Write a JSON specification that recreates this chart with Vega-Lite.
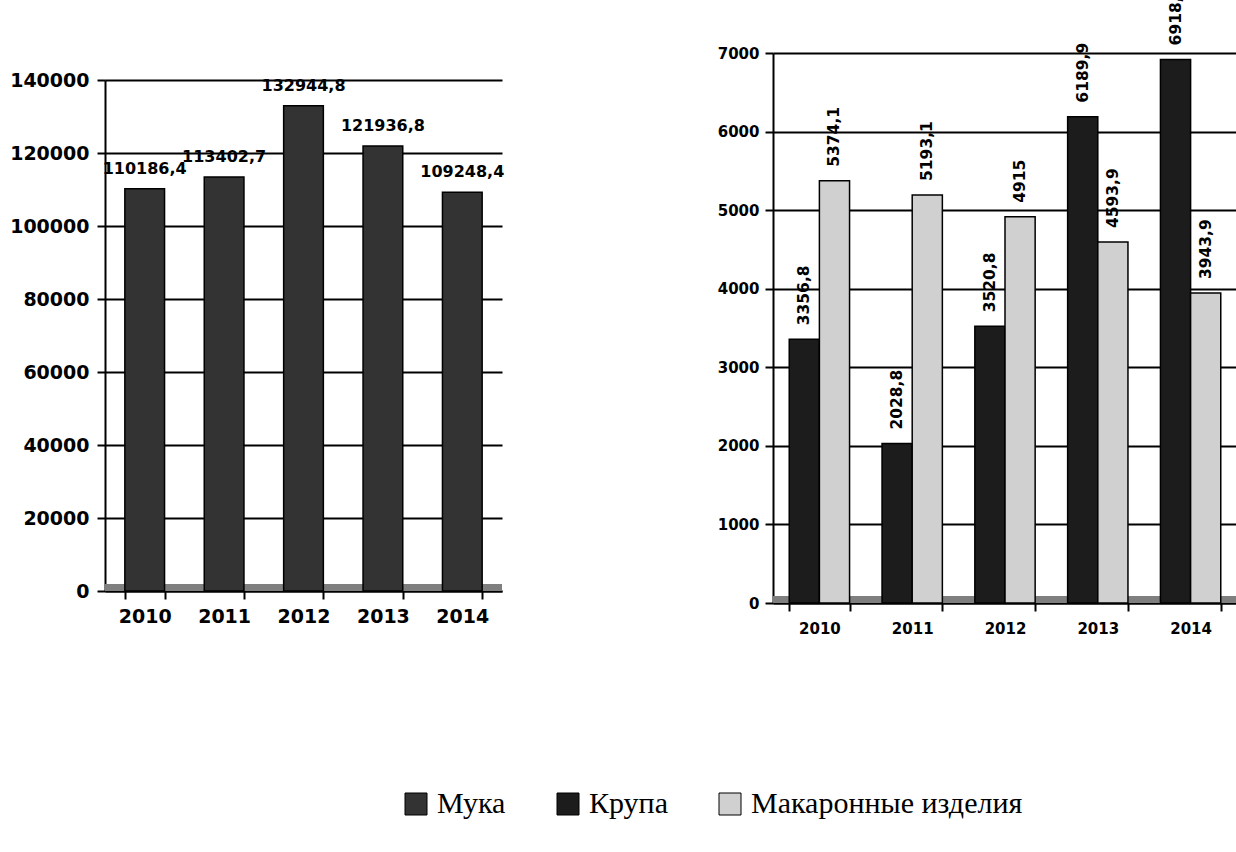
{
  "$schema": "https://vega.github.io/schema/vega-lite/v6.json",
  "background": "white",
  "padding": {"left": 9, "top": -15, "right": 0, "bottom": 0},
  "config": {
    "view": {"stroke": null},
    "font": "DejaVu Sans",
    "axis": {
      "labelColor": "black",
      "labelFontWeight": "bold",
      "domainColor": "black",
      "domainWidth": 2,
      "tickColor": "black",
      "tickWidth": 2,
      "tickSize": 8,
      "gridColor": "black",
      "gridWidth": 2,
      "gridOpacity": 1,
      "title": null
    }
  },
  "datasets": {
    "muka": [
      {"year": "2010", "product": "Мука", "value": 110186.4, "label": "110186,4"},
      {"year": "2011", "product": "Мука", "value": 113402.7, "label": "113402,7"},
      {"year": "2012", "product": "Мука", "value": 132944.8, "label": "132944,8"},
      {"year": "2013", "product": "Мука", "value": 121936.8, "label": "121936,8"},
      {"year": "2014", "product": "Мука", "value": 109248.4, "label": "109248,4"}
    ],
    "other": [
      {"year": "2010", "product": "Крупа", "value": 3356.8, "label": "3356,8"},
      {"year": "2010", "product": "Макаронные изделия", "value": 5374.1, "label": "5374,1"},
      {"year": "2011", "product": "Крупа", "value": 2028.8, "label": "2028,8"},
      {"year": "2011", "product": "Макаронные изделия", "value": 5193.1, "label": "5193,1"},
      {"year": "2012", "product": "Крупа", "value": 3520.8, "label": "3520,8"},
      {"year": "2012", "product": "Макаронные изделия", "value": 4915, "label": "4915"},
      {"year": "2013", "product": "Крупа", "value": 6189.9, "label": "6189,9"},
      {"year": "2013", "product": "Макаронные изделия", "value": 4593.9, "label": "4593,9"},
      {"year": "2014", "product": "Крупа", "value": 6918.6, "label": "6918,6"},
      {"year": "2014", "product": "Макаронные изделия", "value": 3943.9, "label": "3943,9"}
    ]
  },
  "spacing": 211,
  "resolve": {"scale": {"color": "shared"}},
  "hconcat": [
    {
      "width": 397,
      "height": 538,
      "data": {"name": "muka"},
      "encoding": {
        "x": {
          "field": "year", "type": "nominal",
          "scale": {"paddingInner": 0.5, "paddingOuter": 0.25},
          "axis": {"labelAngle": 0, "tickBand": "extent", "labelFontSize": 19, "labelPadding": 8, "grid": false}
        },
        "y": {
          "field": "value", "type": "quantitative",
          "scale": {"domain": [0, 140000], "nice": false, "range": [538, 27]},
          "axis": {"values": [0, 20000, 40000, 60000, 80000, 100000, 120000, 140000], "format": "d", "labelFontSize": 19, "labelPadding": 8}
        }
      },
      "layer": [
        {
          "mark": {"type": "rule", "color": "#7f7f7f", "strokeWidth": 7, "yOffset": -3.5},
          "encoding": {"x": null, "y": {"datum": 0, "type": "quantitative"}}
        },
        {
          "mark": {"type": "bar", "stroke": "black", "strokeWidth": 1.5},
          "encoding": {
            "color": {
              "field": "product", "type": "nominal",
              "scale": {"domain": ["Мука", "Крупа", "Макаронные изделия"], "range": ["#333333", "#1c1c1c", "#d0d0d0"]},
              "legend": {"orient": "none", "legendX": 296, "legendY": 736, "direction": "horizontal", "title": null,
                "labelFont": "Liberation Serif", "labelFontSize": 30, "labelFontWeight": "normal", "labelColor": "black",
                "labelLimit": 600,
                "symbolType": "square", "symbolSize": 484, "symbolStrokeColor": "black", "symbolStrokeWidth": 1,
                "symbolOpacity": 1, "columnPadding": 47, "labelOffset": 6}
            }
          }
        },
        {
          "mark": {"type": "text", "fontWeight": "bold", "fontSize": 16, "baseline": "bottom", "dy": -12, "color": "black"},
          "encoding": {"text": {"field": "label"}}
        }
      ]
    },
    {
      "width": 464,
      "height": 550,
      "data": {"name": "other"},
      "encoding": {
        "x": {
          "field": "year", "type": "nominal",
          "scale": {"paddingInner": 0.35, "paddingOuter": 0.175},
          "axis": {"labelAngle": 0, "tickBand": "extent", "labelFontSize": 15, "labelPadding": 10, "grid": false}
        },
        "y": {
          "field": "value", "type": "quantitative",
          "scale": {"domain": [0, 7000], "nice": false},
          "axis": {"values": [0, 1000, 2000, 3000, 4000, 5000, 6000, 7000], "format": "d", "labelFontSize": 15, "labelPadding": 6}
        }
      },
      "layer": [
        {
          "mark": {"type": "rule", "color": "#7f7f7f", "strokeWidth": 7, "yOffset": -3.5},
          "encoding": {"x": null, "y": {"datum": 0, "type": "quantitative"}}
        },
        {
          "mark": {"type": "bar", "stroke": "black", "strokeWidth": 1.5},
          "encoding": {
            "xOffset": {"field": "product", "type": "nominal", "sort": ["Крупа", "Макаронные изделия"], "scale": {"paddingInner": 0, "paddingOuter": 0}},
            "color": {
              "field": "product", "type": "nominal",
              "scale": {"domain": ["Мука", "Крупа", "Макаронные изделия"], "range": ["#333333", "#1c1c1c", "#d0d0d0"]},
              "legend": {"orient": "none", "legendX": 296, "legendY": 736, "direction": "horizontal", "title": null,
                "labelFont": "Liberation Serif", "labelFontSize": 30, "labelFontWeight": "normal", "labelColor": "black",
                "labelLimit": 600,
                "symbolType": "square", "symbolSize": 484, "symbolStrokeColor": "black", "symbolStrokeWidth": 1,
                "symbolOpacity": 1, "columnPadding": 47, "labelOffset": 6}
            }
          }
        },
        {
          "mark": {"type": "text", "fontWeight": "bold", "fontSize": 15.5, "angle": 270, "align": "left", "baseline": "middle", "dx": 14, "color": "black"},
          "encoding": {
            "xOffset": {"field": "product", "type": "nominal", "sort": ["Крупа", "Макаронные изделия"], "scale": {"paddingInner": 0, "paddingOuter": 0}},
            "text": {"field": "label"}
          }
        }
      ]
    }
  ]
}
